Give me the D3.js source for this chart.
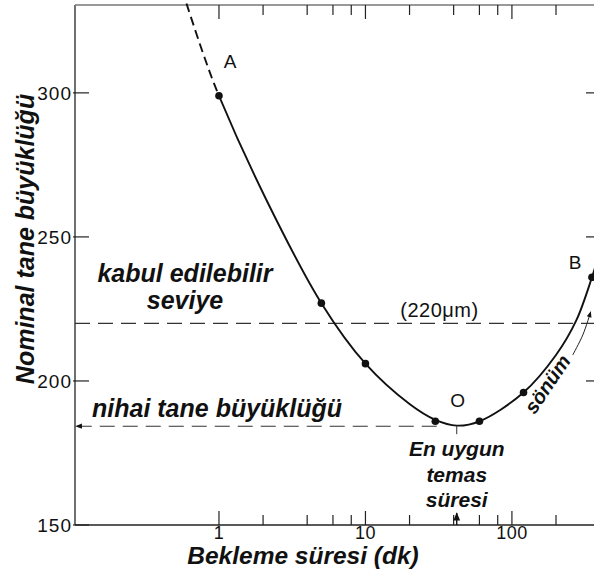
<!DOCTYPE html>
<html>
<head>
<meta charset="utf-8">
<script src="https://cdn.jsdelivr.net/npm/d3@7"></script>
<style>
  body { margin: 0; background: #fff; }
  text { font-family: "Liberation Sans", Arial, sans-serif; fill: #111; }
  .lbl { font-weight: bold; font-style: italic; }
</style>
</head>
<body>
<svg id="chart"></svg>
<script>
const WIDTH = 594;
const HEIGHT = 574;

// measured points (dots)
const dotTimes = [1, 5, 10, 30, 60, 120, 352];
const dotSizes = [299, 227, 206, 186, 186, 196, 236];

// smooth curve through the data
const curveTimes = [0.6, 0.8, 1, 2.1, 5, 10, 20, 30, 42, 60, 120, 200, 275, 352, 375];
const curveSizes = [331, 312, 299, 263, 227, 206, 192, 186.5, 184.5, 186, 196, 209, 221, 236, 240.5];

const yTicks = [150, 200, 250, 300];
const xMajor = [1, 10, 100];
const xMinor = [2, 4, 6, 8, 20, 40, 60, 80, 200];

const acceptable = 220;
const finalSize = 184.3;
const optimumTime = 42;
const decayFrom = [260, 209];
const decayTo = [345, 224];

const margin = {left: 75, top: 5, right: 596, bottom: 525};

const x = d3.scaleLog().domain([0.104, 375]).range([margin.left, margin.right]);
const y = d3.scaleLinear().domain([150, 330.5]).range([margin.bottom, margin.top]);

const svg = d3.select('#chart').attr('width', WIDTH).attr('height', HEIGHT);

const defs = svg.append('defs');
defs.append('marker')
	.attr('id', 'arrow')
	.attr('viewBox', '0 0 10 10')
	.attr('refX', 9).attr('refY', 5)
	.attr('markerWidth', 7).attr('markerHeight', 6)
	.attr('orient', 'auto-start-reverse')
	.append('path')
	.attr('d', 'M0,1 L10,5 L0,9 Z')
	.attr('fill', '#111');

defs.append('clipPath').attr('id', 'clipLeft')
	.append('rect')
	.attr('x', 0).attr('y', 0)
	.attr('width', x(1)).attr('height', HEIGHT);
defs.append('clipPath').attr('id', 'clipRight')
	.append('rect')
	.attr('x', x(1)).attr('y', margin.top)
	.attr('width', margin.right - x(1)).attr('height', margin.bottom - margin.top);

// frame
const frame = svg.append('g').attr('stroke', '#222').attr('stroke-width', 1.3);
frame.append('line').attr('x1', margin.left).attr('x2', margin.left).attr('y1', margin.top).attr('y2', margin.bottom);
frame.append('line').attr('x1', margin.left).attr('x2', margin.right).attr('y1', margin.bottom).attr('y2', margin.bottom);
frame.append('line').attr('x1', margin.left).attr('x2', margin.right).attr('y1', margin.top).attr('y2', margin.top)
	.attr('stroke', '#777');

// y ticks (left and right, pointing inward)
svg.append('g').selectAll('line.yl').data(yTicks).enter().append('line')
	.attr('x1', margin.left - 2).attr('x2', margin.left + 14)
	.attr('y1', d => y(d)).attr('y2', d => y(d))
	.attr('stroke', '#222').attr('stroke-width', 1.2);
svg.append('g').selectAll('line.yr').data(yTicks.filter(d => d > 150)).enter().append('line')
	.attr('x1', margin.right - 10).attr('x2', margin.right)
	.attr('y1', d => y(d)).attr('y2', d => y(d))
	.attr('stroke', '#222').attr('stroke-width', 1.2);
svg.append('g').selectAll('text').data(yTicks).enter().append('text')
	.attr('x', margin.left - 3).attr('y', d => y(d))
	.attr('dy', '0.36em').attr('text-anchor', 'end')
	.attr('font-size', 19).attr('letter-spacing', 1)
	.text(d => d);

// x ticks (bottom and top)
const tickG = svg.append('g').attr('stroke', '#222').attr('stroke-width', 1.2);
[[xMajor, 14], [xMinor, 10]].forEach(([vals, len]) => {
	tickG.selectAll(null).data(vals).enter().append('line')
		.attr('x1', d => x(d)).attr('x2', d => x(d))
		.attr('y1', margin.bottom).attr('y2', margin.bottom - len);
	tickG.selectAll(null).data(vals).enter().append('line')
		.attr('x1', d => x(d)).attr('x2', d => x(d))
		.attr('y1', margin.top).attr('y2', margin.top + len);
});
svg.append('g').selectAll('text').data(xMajor).enter().append('text')
	.attr('x', d => x(d)).attr('y', 539)
	.attr('text-anchor', 'middle')
	.attr('font-size', 18).attr('letter-spacing', 0.5)
	.text(d => d);

// reference lines
svg.append('line')
	.attr('x1', margin.left).attr('x2', margin.right)
	.attr('y1', y(acceptable)).attr('y2', y(acceptable))
	.attr('stroke', '#333').attr('stroke-width', 1.1)
	.attr('stroke-dasharray', '15,8');
svg.append('line')
	.attr('x1', x(optimumTime) - 20).attr('x2', margin.left + 1)
	.attr('y1', y(finalSize)).attr('y2', y(finalSize))
	.attr('stroke', '#333').attr('stroke-width', 1.1)
	.attr('stroke-dasharray', '15,8')
	.attr('marker-end', 'url(#arrow)');
svg.append('line')
	.attr('x1', x(optimumTime)).attr('x2', x(optimumTime))
	.attr('y1', y(finalSize)).attr('y2', y(finalSize) + 8)
	.attr('stroke', '#333').attr('stroke-width', 1);
svg.append('line')
	.attr('x1', x(optimumTime)).attr('x2', x(optimumTime))
	.attr('y1', margin.bottom).attr('y2', margin.bottom - 12)
	.attr('stroke', '#111').attr('stroke-width', 1.4)
	.attr('marker-end', 'url(#arrow)');

// curve
const curvePts = curveTimes.map((t, i) => [t, curveSizes[i]]);
const line = d3.line()
	.x(d => x(d[0]))
	.y(d => y(d[1]))
	.curve(d3.curveCatmullRom.alpha(0.5));

svg.append('path')
	.datum(curvePts)
	.attr('d', line)
	.attr('fill', 'none').attr('stroke', '#111').attr('stroke-width', 1.9)
	.attr('stroke-dasharray', '9,5')
	.attr('clip-path', 'url(#clipLeft)');
svg.append('path')
	.datum(curvePts)
	.attr('d', line)
	.attr('fill', 'none').attr('stroke', '#111').attr('stroke-width', 1.9)
	.attr('clip-path', 'url(#clipRight)');

svg.append('g').selectAll('circle')
	.data(dotTimes.map((t, i) => [t, dotSizes[i]]))
	.enter().append('circle')
	.attr('cx', d => x(d[0])).attr('cy', d => y(d[1]))
	.attr('r', 3.8).attr('fill', '#111');

// decay arrow
svg.append('path')
	.datum([decayFrom, [305, 216], decayTo])
	.attr('d', line)
	.attr('fill', 'none').attr('stroke', '#222').attr('stroke-width', 1)
	.attr('marker-end', 'url(#arrow)');

// letters
const letters = [['A', 1, 308.5, 11], ['B', 352, 239, -17], ['O', optimumTime, 191, 1]];
svg.append('g').selectAll('text').data(letters).enter().append('text')
	.attr('x', d => x(d[1]) + d[3]).attr('y', d => y(d[2]))
	.attr('text-anchor', 'middle').attr('font-size', 19)
	.text(d => d[0]);

svg.append('text')
	.attr('x', x(32)).attr('y', y(acceptable) - 6)
	.attr('text-anchor', 'middle').attr('font-size', 20)
	.attr('letter-spacing', 0.5)
	.text('(220μm)');

// labels
const lbl = (txt, px, py, size, anchor) => svg.append('text')
	.attr('class', 'lbl')
	.attr('x', px).attr('y', py)
	.attr('text-anchor', anchor || 'middle')
	.attr('font-size', size)
	.text(txt);

lbl('kabul edilebilir', 185, 282, 25);
lbl('seviye', 185, 309, 25);
lbl('nihai tane büyüklüğü', 92, 417, 25, 'start');
lbl('En uygun', x(optimumTime), 456, 21);
lbl('temas', x(optimumTime), 482, 21);
lbl('süresi', x(optimumTime), 507, 21);
lbl('Bekleme süresi (dk)', 303, 564, 24.5);
lbl('Nominal tane büyüklüğü', 0, 0, 25)
	.attr('transform', 'translate(34,239) rotate(-90)');
lbl('sönüm', 0, 0, 20)
	.attr('transform', 'translate(553,388) rotate(-56)');
</script>
</body>
</html>
